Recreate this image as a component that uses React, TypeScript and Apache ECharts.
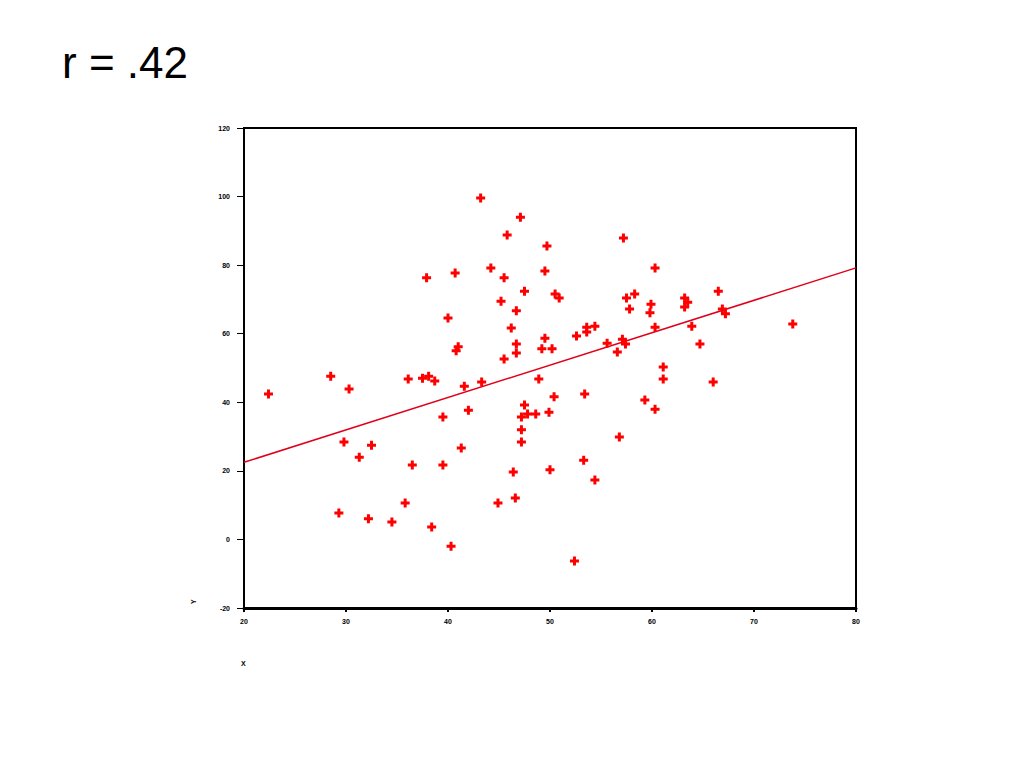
import React, { useEffect, useRef } from "react";
import * as echarts from "echarts";

const xValues: number[] = [
  22.4, 28.5, 30.3, 29.3, 29.8, 31.3, 32.5, 32.2, 34.5, 35.8,
  36.5, 36.1, 37.5, 38.1, 38.7, 37.9, 38.4, 39.5, 39.5, 40.0,
  40.3, 40.7, 40.8, 41.0, 41.3, 41.6, 42.0, 43.2, 43.3, 44.2,
  44.9, 45.2, 45.5, 45.5, 45.8, 46.2, 46.4, 46.6, 46.7, 46.7,
  46.7, 47.1, 47.5, 47.2, 47.2, 47.2, 47.5, 47.8, 48.6, 48.9,
  49.2, 49.5, 49.7, 49.5, 49.9, 50.0, 50.2, 50.4, 50.5, 50.9,
  52.4, 52.6, 53.3, 53.4, 53.6, 53.6, 54.4, 54.4, 55.6, 56.6,
  56.8, 57.1, 57.4, 57.2, 57.5, 57.8, 58.3, 59.3, 59.8, 59.9,
  60.3, 60.3, 60.3, 61.1, 61.1, 63.2, 63.5, 63.2, 63.9, 64.7,
  66.0, 66.5, 66.9, 67.2, 73.8,
];
const yValues: number[] = [
  42.4, 47.6, 43.9, 7.7, 28.4, 24.0, 27.5, 6.0, 5.1, 10.6,
  21.7, 46.8, 47.0, 47.6, 46.2, 76.3, 3.6, 35.7, 21.7, 64.6,
  -2.0, 77.7, 55.0, 56.2, 26.7, 44.7, 37.7, 99.6, 45.9, 79.2,
  10.6, 69.5, 76.3, 52.6, 88.8, 61.7, 19.7, 12.1, 54.4, 57.0,
  66.7, 94.0, 72.4, 35.7, 32.0, 28.4, 39.2, 36.6, 36.6, 46.8,
  55.6, 58.7, 85.6, 78.3, 37.1, 20.3, 55.6, 41.6, 71.6, 70.4,
  -6.3, 59.3, 23.1, 42.4, 61.9, 60.5, 62.2, 17.3, 57.2, 54.7,
  29.9, 58.4, 57.0, 87.9, 70.4, 67.2, 71.6, 40.7, 66.1, 68.6,
  38.0, 61.9, 79.2, 50.3, 46.8, 70.4, 69.2, 67.8, 62.2, 57.0,
  45.9, 72.4, 67.2, 65.8, 62.8,
];
const fitX: number[] = [20, 80];
const fitY: number[] = [22.5, 79.2];
const xTicks: number[] = [20, 30, 40, 50, 60, 70, 80];
const yTicks: number[] = [-20, 0, 20, 40, 60, 80, 100, 120];
const titleText = "r = .42";
const xName = "X";
const yName = "Y";

const plusPath = "path://M3,0H6V3H9V6H6V9H3V6H0V3H3Z";

export default function App() {
  const ref = useRef<HTMLDivElement>(null);
  useEffect(() => {
    if (!ref.current) return;
    const chart = echarts.init(ref.current, null, { renderer: "svg" });
    const points = xValues.map((x, i) => [x, yValues[i]]);
    const fit = fitX.map((x, i) => [x, fitY[i]]);
    chart.setOption({
      animation: false,
      backgroundColor: "#ffffff",
      grid: {
        left: 244,
        right: 168,
        top: 128,
        bottom: 160,
        show: true,
        borderColor: "#000",
        borderWidth: 2,
        backgroundColor: "transparent",
      },
      xAxis: {
        type: "value",
        min: xTicks[0],
        max: xTicks[xTicks.length - 1],
        interval: 10,
        axisLine: { show: true, onZero: false, lineStyle: { color: "#000", width: 3 } },
        axisTick: { show: true, length: 4, lineStyle: { color: "#000", width: 2 } },
        axisLabel: {
          color: "#000",
          fontSize: 7,
          fontWeight: "bold",
          fontFamily: "Liberation Sans",
          margin: 10,
        },
        splitLine: { show: false },
      },
      yAxis: {
        type: "value",
        min: yTicks[0],
        max: yTicks[yTicks.length - 1],
        interval: 20,
        axisLine: { show: true, onZero: false, lineStyle: { color: "#000", width: 2 } },
        axisTick: { show: true, length: 7, lineStyle: { color: "#000", width: 1 } },
        axisLabel: {
          color: "#000",
          fontSize: 7,
          fontWeight: "bold",
          fontFamily: "Liberation Sans",
          margin: 14,
        },
        splitLine: { show: false },
      },
      graphic: [
        {
          type: "text",
          left: 62,
          top: 40,
          style: {
            text: titleText,
            fontSize: 44,
            fontFamily: "Liberation Sans",
            fill: "#000",
          },
        },
        {
          type: "text",
          left: 241,
          top: 660,
          style: {
            text: xName,
            fontSize: 7,
            fontWeight: "bold",
            fontFamily: "Liberation Sans",
            fill: "#000",
          },
        },
        {
          type: "text",
          x: 190,
          y: 604,
          rotation: Math.PI / 2,
          style: {
            text: yName,
            fontSize: 7,
            fontWeight: "bold",
            fontFamily: "Liberation Sans",
            fill: "#000",
          },
        },
      ],
      series: [
        {
          type: "line",
          data: fit,
          symbol: "none",
          lineStyle: { color: "#e0001a", width: 1.5 },
          z: 2,
        },
        {
          type: "scatter",
          data: points,
          symbol: plusPath,
          symbolSize: 9,
          itemStyle: { color: "#ff0000", opacity: 1 },
          z: 3,
        },
      ],
    });
    return () => chart.dispose();
  }, []);
  return (
    <div
      ref={ref}
      style={{ position: "fixed", left: 0, top: 0, width: 1024, height: 768 }}
    />
  );
}
